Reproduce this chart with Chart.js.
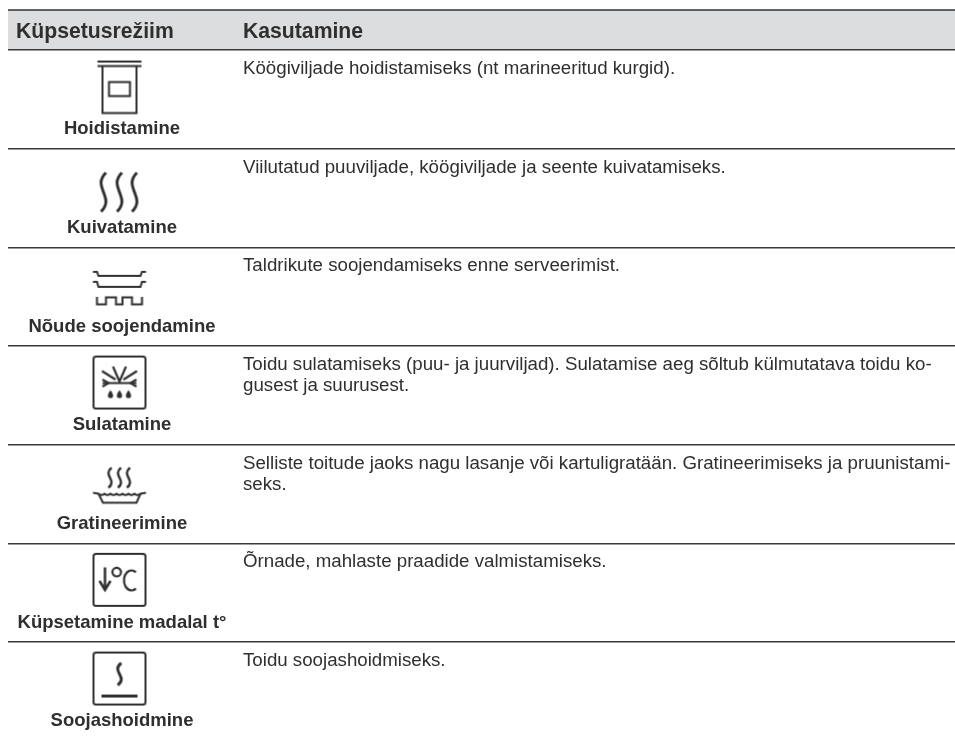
<!DOCTYPE html>
<html lang="et">
<head>
<meta charset="utf-8">
<title>Küpsetusrežiim</title>
<script src="https://cdn.jsdelivr.net/npm/chart.js@4"></script>
<style>
  html, body { margin: 0; background: #fff; }
  canvas { display: block; }
</style>
</head>
<body>
<canvas id="table" width="955" height="737"></canvas>
<script>
const headers = ["Küpsetusrežiim", "Kasutamine"];
const modes = ["Hoidistamine", "Kuivatamine", "Nõude soojendamine", "Sulatamine", "Gratineerimine", "Küpsetamine madalal t°", "Soojashoidmine"];
const uses = [
  ["Köögiviljade hoidistamiseks (nt marineeritud kurgid)."],
  ["Viilutatud puuviljade, köögiviljade ja seente kuivatamiseks."],
  ["Taldrikute soojendamiseks enne serveerimist."],
  ["Toidu sulatamiseks (puu- ja juurviljad). Sulatamise aeg sõltub külmutatava toidu ko-", "gusest ja suurusest."],
  ["Selliste toitude jaoks nagu lasanje või kartuligratään. Gratineerimiseks ja pruunistami-", "seks."],
  ["Õrnade, mahlaste praadide valmistamiseks."],
  ["Toidu soojashoidmiseks."]
];
const iconNames = ["jar", "steam", "plates", "defrost", "gratin", "lowTemp", "keepWarm"];

const INK = "#2f2f2f";
const FONT = '"Liberation Sans", Arial, sans-serif';
const ROW_PX = 98.67;
const COL_ICON = 119.5;
const COL_TEXT = 243;

function line(c, pts){
  c.beginPath();
  pts.forEach((p, i)=>{ i ? c.lineTo(p[0], p[1]) : c.moveTo(p[0], p[1]); });
  c.stroke();
}
function box(c){
  c.beginPath();
  c.roundRect(-26, -26, 52, 52, 2.5);
  c.stroke();
}
// one wavy steam line, from top to bottom around x
function wave(c, x, top, h, amp){
  c.beginPath();
  c.moveTo(x + amp*0.7, top);
  c.bezierCurveTo(x - amp*1.5, top + h*0.2, x - amp*0.6, top + h*0.36, x, top + h*0.5);
  c.bezierCurveTo(x + amp*0.6, top + h*0.64, x + amp*1.5, top + h*0.8, x - amp*0.7, top + h);
  c.stroke();
}

const iconDraw = {
  jar(c){
    c.lineWidth = 2.2;
    line(c, [[-22, -25], [22, -25]]);
    line(c, [[-22, -20.5], [22, -20.5]]);
    c.lineWidth = 2;
    line(c, [[-17, -20.5], [-17, 26.5], [17, 26.5], [17, -20.5]]);
    c.strokeRect(-10.5, -4.5, 21, 14);
  },
  steam(c){
    c.lineWidth = 2.9;
    wave(c, -16, -12.5, 39, 3.5);
    wave(c, 0, -12.5, 39, 3.5);
    wave(c, 15, -12.5, 39, 3.5);
  },
  plates(c){
    c.lineWidth = 2;
    line(c, [[-26.5, -12], [-22.5, -12], [-21, -8], [21, -8], [22.5, -12], [26.5, -12]]);
    line(c, [[-26.5, -2], [-22.5, -2], [-21, 3], [21, 3], [22.5, -2], [26.5, -2]]);
    line(c, [[-22.5, 13], [-22.5, 20.5], [-13.5, 20.5], [-13.5, 13.5], [-3.5, 13.5], [-3.5, 20.5], [3, 20.5], [3, 13.5], [12.5, 13.5], [12.5, 20.5], [22.5, 20.5], [22.5, 13]]);
  },
  defrost(c){
    c.lineWidth = 2;
    box(c);
    c.lineWidth = 2.2;
    line(c, [[-17, 0.5], [17, 0.5]]);
    line(c, [[-17, -3], [-11, 0.5], [-17, 4]]);
    line(c, [[17, -3], [11, 0.5], [17, 4]]);
    line(c, [[-6.5, -16], [0, -1], [6.5, -16]]);
    line(c, [[-17.5, -11.5], [-4, -3]]);
    line(c, [[17.5, -11.5], [4, -3]]);
    c.fillStyle = INK;
    [-9, 0, 9].forEach((x)=>{
      c.beginPath();
      c.moveTo(x, 7.5);
      c.quadraticCurveTo(x + 3, 12, x + 2.6, 13);
      c.arc(x, 13, 2.6, 0, Math.PI);
      c.quadraticCurveTo(x - 3, 12, x, 7.5);
      c.fill();
    });
  },
  gratin(c){
    c.lineWidth = 2.4;
    wave(c, -9.5, -13.5, 20, 2.2);
    wave(c, 0, -13.5, 20, 2.2);
    wave(c, 9, -13.5, 20, 2.2);
    c.lineWidth = 2;
    c.beginPath();
    c.moveTo(-26.5, 11.5);
    c.lineTo(-21, 12.5);
    for(let x = -21; x < 21; x += 6){
      c.quadraticCurveTo(x + 3, 15, x + 6, 12.5);
    }
    c.lineTo(26.5, 11.5);
    c.stroke();
    line(c, [[-21, 12.5], [-16.5, 21.5], [17, 21.5], [21, 12.5]]);
  },
  lowTemp(c){
    c.lineWidth = 2;
    box(c);
    c.lineWidth = 2.5;
    line(c, [[-14.5, -12.5], [-14.5, 9]]);
    line(c, [[-20, 1], [-14.5, 10], [-9, 1]]);
    c.lineWidth = 2.2;
    c.beginPath();
    c.arc(-2.8, -7.8, 4.3, 0, Math.PI*2);
    c.stroke();
    c.beginPath();
    c.ellipse(12, 0.5, 7.5, 10, 0, Math.PI*0.3, Math.PI*1.7);
    c.stroke();
  },
  keepWarm(c){
    c.lineWidth = 2;
    box(c);
    c.lineWidth = 2.9;
    wave(c, 0, -15.5, 22, 2.6);
    c.lineWidth = 3;
    line(c, [[-18, 17.5], [18, 17.5]]);
  }
};

function makeIcon(name){
  const cv = document.createElement("canvas");
  cv.width = 70;
  cv.height = 70;
  const c = cv.getContext("2d");
  c.translate(35, 35);
  c.strokeStyle = INK;
  c.lineJoin = "miter";
  iconDraw[name](c);
  return cv;
}

// header texts and the row texts, placed through the chart's scales
const tableText = {
  id: "tableText",
  afterDatasetsDraw(chart){
    const {ctx, scales} = chart;
    const x = scales.x, y = scales.y;
    ctx.save();
    ctx.fillStyle = INK;
    ctx.textBaseline = "alphabetic";

    ctx.font = "bold 21.2px " + FONT;
    ctx.textAlign = "left";
    ctx.fillText(headers[0], x.getPixelForValue(16), y.getPixelForValue(-0.122));
    ctx.fillText(headers[1], x.getPixelForValue(COL_TEXT), y.getPixelForValue(-0.122));

    modes.forEach((mode, i)=>{
      ctx.font = "bold 18.5px " + FONT;
      ctx.textAlign = "center";
      ctx.fillText(mode, x.getPixelForValue(COL_ICON + 2.5), y.getPixelForValue(i + 0.855));

      ctx.font = "18.7px " + FONT;
      ctx.textAlign = "left";
      uses[i].forEach((text, l)=>{
        ctx.fillText(text, x.getPixelForValue(COL_TEXT), y.getPixelForValue(i + 0.243 + l*0.218));
      });
    });
    ctx.restore();
  }
};

new Chart(document.getElementById("table"), {
  type: "scatter",
  plugins: [tableText],
  data: {
    datasets: [
      {
        // mode icons
        data: modes.map((m, i)=>({x: COL_ICON, y: i + 0.37})),
        pointStyle: iconNames.map(makeIcon),
        showLine: false
      },
      {
        // header band
        type: "line",
        data: [{x: 8, y: -0.405}, {x: 955, y: -0.405}],
        fill: {value: 0},
        backgroundColor: "#dcddde",
        borderColor: "#333",
        borderWidth: 1.5,
        pointRadius: 0
      }
    ]
  },
  options: {
    responsive: false,
    animation: false,
    events: [],
    layout: {padding: {left: 8}, autoPadding: false},
    plugins: {legend: {display: false}, tooltip: {enabled: false}},
    scales: {
      x: {type: "linear", min: 8, max: 955, display: false},
      y: {
        type: "linear",
        reverse: true,
        min: -50/ROW_PX,
        max: (737 - 50)/ROW_PX,
        grid: {color: "#3a3a3a", lineWidth: 1.5, drawTicks: false, z: 1},
        border: {display: false},
        ticks: {display: false},
        afterBuildTicks(scale){
          // one rule under the header and under each row but the last
          scale.ticks = modes.map((m, i)=>({value: i}));
        }
      }
    }
  }
});
</script>
</body>
</html>
